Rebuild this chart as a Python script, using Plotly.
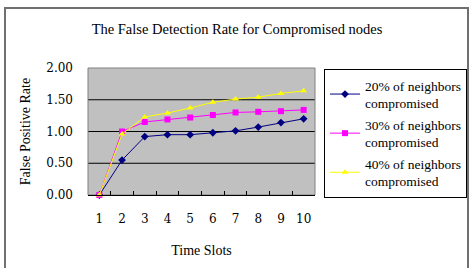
import plotly.graph_objects as go

time_slots = ["1", "2", "3", "4", "5", "6", "7", "8", "9", "10"]
rate_20 = [0.0, 0.55, 0.92, 0.95, 0.95, 0.98, 1.01, 1.07, 1.14, 1.20]
rate_30 = [0.0, 1.00, 1.15, 1.19, 1.22, 1.26, 1.30, 1.31, 1.32, 1.34]
rate_40 = [0.0, 0.96, 1.23, 1.29, 1.37, 1.46, 1.51, 1.54, 1.60, 1.64]
series_names = ["20% of neighbors<br>compromised", "30% of neighbors<br>compromised",
                "40% of neighbors<br>compromised"]
y_ticks = [0.0, 0.5, 1.0, 1.5, 2.0]
grid_vals = [0.5, 1.0, 1.5]

TICKFONT = "DejaVu Serif"
TEXTFONT = "Liberation Serif"
W, H = 475, 268
L, R, T, B = 88, 160, 68, 73
pw, ph = W - L - R, H - T - B

def px_x(x):
    return (x - L) / pw

def px_y(y):
    return (H - B - y) / ph

fig = go.Figure()
styles = [
    (rate_20, "#000080", "diamond"),
    (rate_30, "#FF00FF", "square"),
    (rate_40, "#FFFF00", "triangle-up"),
]
for i, ((vals, col, sym), name) in enumerate(zip(styles, series_names)):
    fig.add_trace(go.Scatter(
        x=time_slots, y=vals, name=name, mode="lines+markers", legendgroup=f"g{i}",
        line=dict(color=col, width=1),
        marker=dict(symbol=sym, size=6, color=col),
        cliponaxis=False,
    ))

shapes = [
    dict(type="line", xref="paper", yref="y", x0=0, x1=1, y0=v, y1=v,
         line=dict(color="black", width=1), layer="below")
    for v in grid_vals
]
shapes += [
    dict(type="rect", xref="paper", yref="paper", x0=0, x1=1, y0=0, y1=1,
         line=dict(color="#808080", width=1), layer="below"),
    dict(type="rect", xref="paper", yref="paper",
         x0=px_x(5), x1=px_x(468), y0=px_y(272), y1=px_y(8),
         line=dict(color="#707070", width=2)),
]

fig.update_layout(
    width=W, height=H,
    margin=dict(l=L, r=R, t=T, b=B, autoexpand=False),
    paper_bgcolor="white", plot_bgcolor="#C0C0C0",
    font=dict(family=TEXTFONT, color="black", size=14),
    title=dict(text="The False Detection Rate for Compromised nodes",
               x=237 / W, xref="container", xanchor="center",
               y=1 - 29 / H, yref="container", yanchor="middle",
               font=dict(family=TEXTFONT, size=14.5, color="black")),
    showlegend=True,
    legend=dict(x=px_x(324), y=px_y(69), xanchor="left", yanchor="top",
                bordercolor="black", borderwidth=1, bgcolor="white",
                font=dict(family=TEXTFONT, size=13.5, color="black"),
                tracegroupgap=1, itemwidth=30, maxheight=300),
    xaxis=dict(type="category", range=[-0.5, len(time_slots) - 0.5],
               tickson="boundaries", ticks="inside", ticklen=4,
               tickcolor="black", showline=True, linecolor="black", linewidth=1,
               showgrid=False, mirror=False, ticklabelstandoff=13, tickangle=0,
               tickfont=dict(family=TICKFONT, size=12),
               title=dict(text="Time Slots", standoff=19, font=dict(size=14))),
    yaxis=dict(range=[0, 2], tickvals=y_ticks, tickformat=".2f",
               showgrid=False, showline=False, zeroline=False, ticks="",
               ticklabelstandoff=14, tickfont=dict(family=TICKFONT, size=12),
               title=dict(text="False Positive Rate", standoff=12, font=dict(size=14))),
    shapes=shapes,
)

fig.write_html("out.html")
